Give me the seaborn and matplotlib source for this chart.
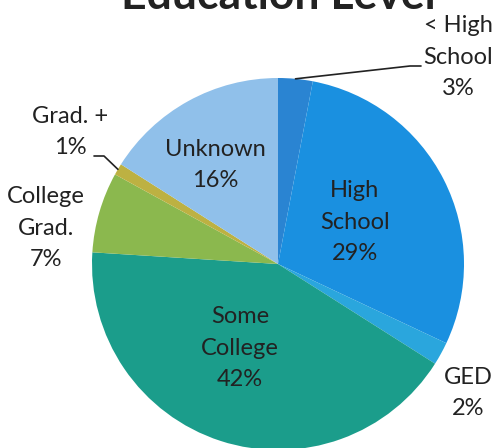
import numpy as np
import matplotlib
matplotlib.use("Agg")
import matplotlib.pyplot as plt
import seaborn as sns

categories = ["< High\nSchool", "High\nSchool", "GED", "Some\nCollege", "College\nGrad.", "Grad. +", "Unknown"]
values = [3, 29, 2, 42, 7, 1, 16]
colors = ["#2a84d2", "#1a90e0", "#2aa6dd", "#1b9d8b", "#8bb84e", "#bdb142", "#90c0ea"]
title = "Education Level"

sns.set_theme(style="white")
plt.rcParams['font.family'] = ['Lato', 'DejaVu Sans']
palette = sns.color_palette(colors)

W, H = 496, 448
fig = plt.figure(figsize=(W / 100, H / 100), dpi=100)

def px(x, y):
    return (x / W, 1 - y / H)

cx, cy, r = 278, 264, 186
ax = fig.add_axes([(cx - r) / W, (H - cy - r) / H, 2 * r / W, 2 * r / H])
wedges, _ = ax.pie(values, colors=palette, startangle=90, counterclock=False,
                   radius=1, wedgeprops=dict(linewidth=0))
ax.set_xlim(-1, 1)
ax.set_ylim(-1, 1)
ax.set_aspect("equal")
ax.axis("off")

tc = "#222222"
fs = 17
lab = [f"{c}\n{v}%" for c, v in zip(categories, values)]
# label positions (pixel centers)
pos = {
    0: (458, 57),
    1: (355, 222),
    2: (468, 393),
    3: (240, 348),
    4: (46, 228),
    5: (70, 132),
    6: (215, 165),
}
for i, (x, y) in pos.items():
    fig.text(*px(x, y), lab[i], ha="center", va="center", fontsize=fs, color=tc,
             linespacing=1.6)

def edge_pt(w):
    th = np.deg2rad((w.theta1 + w.theta2) / 2)
    return (np.cos(th), np.sin(th))

def to_ax(xp, yp):
    return ((xp - cx) / r, (cy - yp) / r)

# leader for < High School
e = edge_pt(wedges[0])
p1 = to_ax(410, 66)
p2 = to_ax(421, 66)
ax.plot([e[0], p1[0], p2[0]], [e[1], p1[1], p2[1]], color=tc, lw=1.2, clip_on=False)
# leader for Grad. +
e = edge_pt(wedges[5])
p1 = to_ax(104, 156)
p2 = to_ax(94, 156)
ax.plot([e[0], p1[0], p2[0]], [e[1], p1[1], p2[1]], color=tc, lw=1.2, clip_on=False)

fig.text(*px(278, 9), title, ha="center", va="baseline", fontsize=32,
         fontweight="bold", color=tc)

fig.savefig("out.png", dpi=100)
